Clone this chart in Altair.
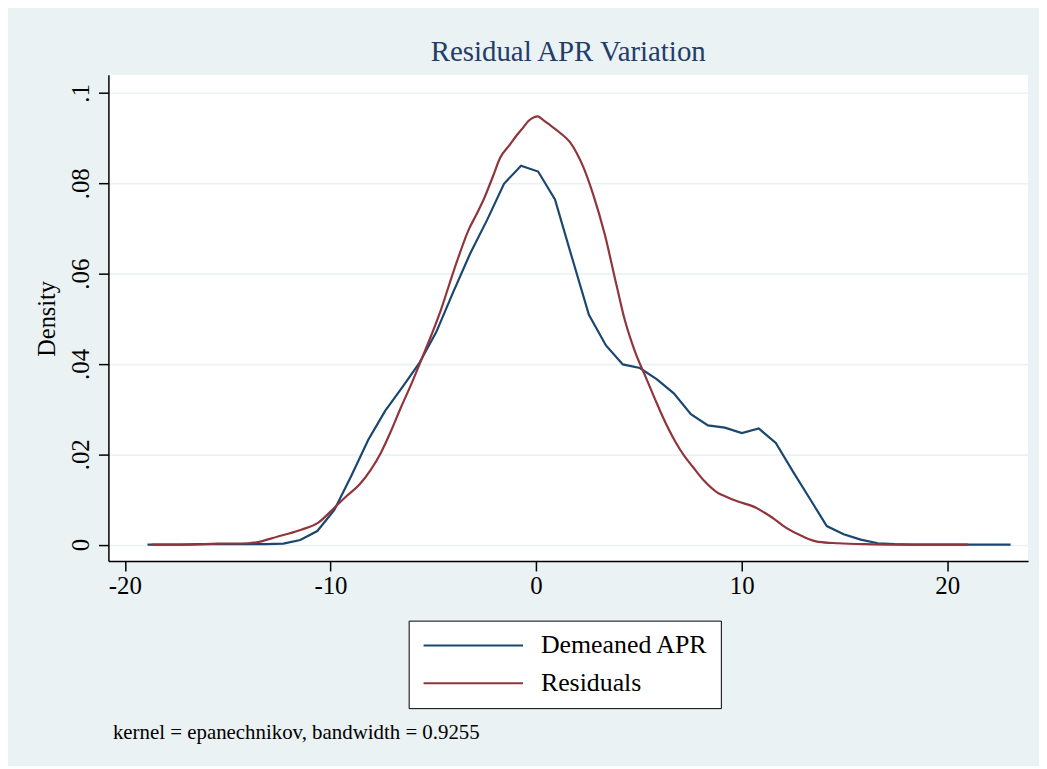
import altair as alt
import pandas as pd

# Demeaned APR kernel density (x, density)
apr_x = [-18.9, -18.08, -17.25, -16.43, -15.6, -14.77, -13.95, -13.12, -12.29, -11.47,
         -10.64, -9.82, -8.99, -8.16, -7.34, -6.51, -5.69, -4.86, -4.03, -3.21,
         -2.38, -1.56, -0.73, 0.10, 0.92, 1.75, 2.57, 3.40, 4.22, 5.05,
         5.88, 6.70, 7.53, 8.36, 9.18, 10.01, 10.83, 11.66, 12.49, 13.31,
         14.14, 14.96, 15.79, 16.62, 17.44, 18.27, 19.09, 19.92, 20.75, 21.57,
         22.40, 23.08]
apr_d = [0.0, 0.0, 0.0, 0.0001, 0.0001, 0.0001, 0.0001, 0.0001, 0.0002, 0.0010,
         0.0030, 0.0076, 0.0152, 0.0232, 0.0296, 0.0348, 0.0401, 0.0470, 0.0559, 0.0644,
         0.0719, 0.0799, 0.0839, 0.0826, 0.0764, 0.0635, 0.0509, 0.0441, 0.0399, 0.0391,
         0.0366, 0.0335, 0.0289, 0.0264, 0.0259, 0.0247, 0.0257, 0.0225, 0.0162, 0.0102,
         0.0041, 0.0023, 0.0011, 0.0003, 0.0001, 0.0, 0.0, 0.0, 0.0, 0.0,
         0.0, 0.0]

# Residuals kernel density (x, density)
res_x = [-18.7, -17.0, -15.5, -14.0, -13.6, -12.55, -12.06, -11.42, -10.61, -9.8,
         -9.2, -8.59, -8.05, -7.55, -7.05, -6.58, -6.1, -5.61, -5.1, -4.64,
         -4.25, -3.84, -3.27, -2.9, -2.55, -2.1, -1.74, -1.3, -0.93, -0.6,
         -0.37, -0.1, 0.07, 0.35, 0.68, 1.16, 1.65, 2.0, 2.29, 2.78,
         3.34, 3.9, 4.3, 4.79, 5.36, 5.76, 6.16, 6.81, 7.2, 7.61,
         8.2, 8.82, 9.3, 9.79, 10.68, 11.1, 11.48, 12.13, 12.93, 13.74,
         14.71, 16.0, 17.5, 19.0, 21.0]
res_d = [0.0, 0.0, 0.0002, 0.0003, 0.0005, 0.0018, 0.0024, 0.0033, 0.0048, 0.0082,
         0.0108, 0.0133, 0.0165, 0.0203, 0.0252, 0.0303, 0.0352, 0.0406, 0.0463, 0.0518,
         0.0572, 0.0628, 0.0698, 0.0731, 0.0764, 0.0815, 0.0857, 0.0884, 0.0907, 0.0925,
         0.0938, 0.0946, 0.0948, 0.0940, 0.0929, 0.0912, 0.0891, 0.0865, 0.0837, 0.0775,
         0.0687, 0.0577, 0.0500, 0.0430, 0.0368, 0.0325, 0.0283, 0.0225, 0.0197, 0.0173,
         0.0140, 0.0115, 0.0105, 0.0096, 0.0082, 0.0071, 0.0060, 0.0038, 0.0019, 0.0006,
         0.0003, 0.0001, 0.0, 0.0, 0.0]

series_names = ["Demeaned APR", "Residuals"]
series_colors = ["#1a476f", "#90353b"]
x_ticks = [-20, -10, 0, 10, 20]
y_ticks = [0, 0.02, 0.04, 0.06, 0.08, 0.1]

df_apr = pd.DataFrame({"series": series_names[0], "x": apr_x, "d": apr_d,
                       "o": list(range(len(apr_x)))})
df_res = pd.DataFrame({"series": series_names[1], "x": res_x, "d": res_d,
                       "o": list(range(len(res_x)))})

FONT = "Liberation Serif"

x_enc = alt.X("x:Q",
              scale=alt.Scale(domain=[-20.8, 23.93], nice=False, zero=False),
              axis=alt.Axis(values=x_ticks, grid=False,
                            labelExpr="replace(format(datum.value, 'd'), '\u2212', '-')",
                            title="kernel = epanechnikov, bandwidth = 0.9255",
                            titleX=4, titleY=179, titleAlign="left",
                            titleBaseline="alphabetic", titleAngle=0,
                            titleFont=FONT, titleFontSize=21, titleFontWeight="normal",
                            titleColor="black",
                            labelFont=FONT, labelFontSize=25, labelColor="black",
                            labelPadding=3, tickSize=10, tickColor="black",
                            tickWidth=1.5, domainColor="black", domainWidth=1.5))
y_enc = alt.Y("d:Q",
              scale=alt.Scale(domain=[-0.00363, 0.10402], nice=False, zero=False),
              axis=alt.Axis(values=y_ticks,
                            labelExpr="datum.value == 0 ? '0' : replace(format(datum.value, '.2~f'), /^0/, '')",
                            grid=True, gridColor="#EAF2F3", gridWidth=1.6,
                            title="Density", titleFont=FONT, titleFontSize=24.5,
                            titleFontWeight="normal", titleColor="black",
                            titleAngle=270, titleX=-54, titleY=245,
                            titleAlign="center", titleBaseline="alphabetic",
                            labelFont=FONT, labelFontSize=25, labelColor="black",
                            labelAngle=270, labelAlign="center", labelBaseline="bottom",
                            labelPadding=5, tickSize=10, tickColor="black",
                            tickWidth=1.5, domainColor="black", domainWidth=1.5))
color_enc = alt.Color("series:N",
                      scale=alt.Scale(domain=series_names, range=series_colors),
                      legend=alt.Legend(title=None, orient="none",
                                        legendX=302, legendY=549,
                                        direction="vertical",
                                        padding=12, strokeColor="black",
                                        fillColor="white",
                                        symbolType="M-1,0H9", symbolSize=400,
                                        symbolStrokeWidth=2,
                                        labelFont=FONT, labelFontSize=26,
                                        labelColor="black", labelOffset=95,
                                        labelLimit=400, rowPadding=12))

apr_line = alt.Chart(df_apr).mark_line(strokeWidth=2.2).encode(
    x=x_enc, y=y_enc, color=color_enc, order="o:Q")
res_line = alt.Chart(df_res).mark_line(strokeWidth=2.2, interpolate="monotone").encode(
    x=x_enc, y=y_enc, color=color_enc, order="o:Q")

chart = alt.layer(apr_line, res_line).properties(
    width=925,
    height=489,
    title=alt.TitleParams("Residual APR Variation", font=FONT, fontSize=29,
                          fontWeight="normal", color="#233c6a", anchor="middle",
                          offset=8),
    autosize=alt.AutoSizeParams(type="none"),
    padding={"left": 101, "top": 65, "right": 11, "bottom": 204},
    background="#EAF2F3",
).configure_view(
    fill="white", stroke=None
)

chart.save("out.html", embed_options={"renderer": "svg", "actions": False})
